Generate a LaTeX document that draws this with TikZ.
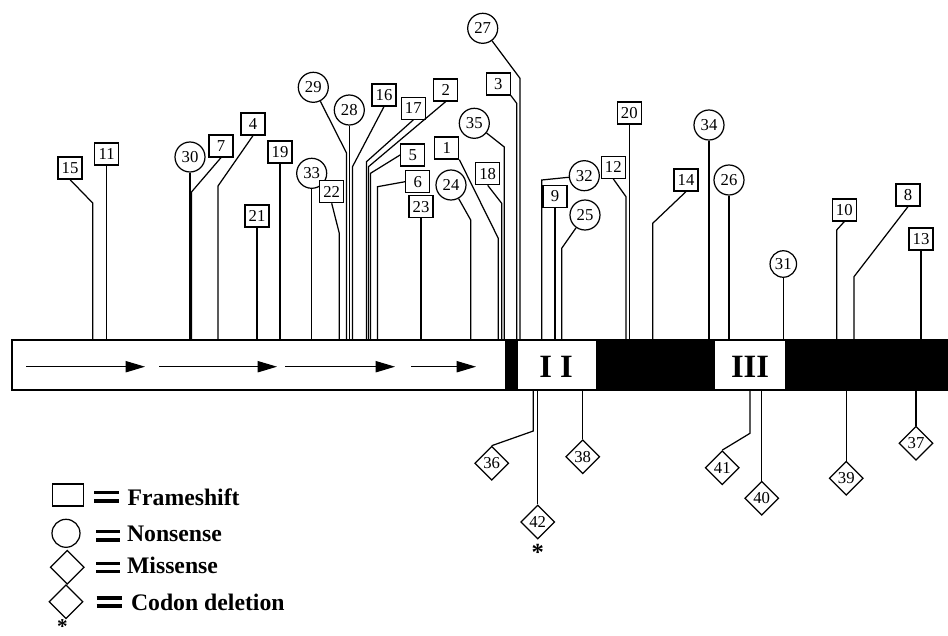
\documentclass[tikz,border=0pt]{standalone}
\usepackage{fontspec}
\setmainfont{Liberation Serif}
\usetikzlibrary{shapes.geometric,arrows.meta}

\begin{document}
\begin{tikzpicture}[x=0.02cm,y=-0.02cm,
  stem/.style={line width=0.7pt},
  numfont/.style={font=\fontsize{9.5}{9.5}\selectfont},
  fs/.style={draw,line width=0.7pt,minimum width=0.48cm,minimum height=0.44cm,inner sep=0pt,fill=white,numfont},
  ns/.style={draw,circle,line width=0.7pt,minimum size=0.6cm,inner sep=0pt,fill=white,numfont},
  nssmall/.style={ns,minimum size=0.53cm},
  ms/.style={draw,diamond,aspect=1,line width=0.7pt,minimum width=0.68cm,minimum height=0.68cm,inner sep=0pt,fill=white,numfont},
  legtext/.style={anchor=base west,inner sep=0pt,font=\fontsize{13.5}{14}\selectfont\bfseries},
  eqbar/.style={line width=1.9pt},
  dom/.style={font=\fontsize{18.5}{19}\selectfont\bfseries,inner sep=0pt},
  flow/.style={line width=0.6pt,-{Triangle[length=11pt,width=6.4pt]}},
  star/.style={anchor=base,inner sep=0pt,font=\fontsize{14}{14}\selectfont\bfseries}]

\useasboundingbox (0,0) rectangle (948,636);

% ---- gene bar ----
\coordinate (bartop) at (0,340);
\coordinate (barbot) at (0,390);
\draw[line width=0.6pt,fill=white] (12,340) rectangle (960,390);
\fill (505,340) rectangle (517,390);
\fill (597,340) rectangle (714,390);
\fill (786,340) rectangle (960,390);
\draw[line width=0.6pt] (517,340) rectangle (597,390);
\draw[line width=0.6pt] (714,340) rectangle (786,390);
\node[dom] (dII) at (556,367) {I I};
\node[dom] (dIII) at (750,367) {III};

\draw[flow] (26,366.7) -- (145,366.7);
\draw[flow] (159,366.7) -- (277,366.7);
\draw[flow] (285,366.7) -- (395,366.7);
\draw[flow] (411,366.7) -- (476,366.7);

% ---- mutation markers above the bar ----
\node[fs] (n15) at (70,168) {15};
\node[fs] (n11) at (106.7,154) {11};
\node[ns] (n30) at (190,157) {30};
\node[fs] (n7) at (221,146) {7};
\node[fs] (n4) at (253,124) {4};
\node[fs] (n21) at (257,216) {21};
\node[fs] (n19) at (280,152) {19};
\node[ns] (n33) at (311.7,173.3) {33};
\node[ns] (n29) at (313.3,87.3) {29};
\node[fs] (n22) at (331.7,191.7) {22};
\node[ns] (n28) at (349.3,110) {28};
\node[fs] (n16) at (384,95) {16};
\node[fs] (n17) at (413.3,108.3) {17};
\node[fs] (n2) at (445.7,90) {2};
\node[fs] (n5) at (412.7,155) {5};
\node[fs] (n6) at (417.7,181.7) {6};
\node[fs] (n23) at (421,206.7) {23};
\node[fs] (n1) at (446.7,148) {1};
\node[ns] (n24) at (451,185) {24};
\node[ns] (n35) at (474.3,123.3) {35};
\node[fs] (n18) at (487.7,173.7) {18};
\node[ns] (n27) at (482.7,28.3) {27};
\node[fs] (n3) at (498.3,84) {3};
\node[ns] (n32) at (584.3,175.7) {32};
\node[fs] (n9) at (555,196.5) {9};
\node[ns] (n25) at (585,215) {25};
\node[fs] (n12) at (613.3,167.3) {12};
\node[fs] (n20) at (629.3,113) {20};
\node[fs] (n14) at (686,180) {14};
\node[ns] (n34) at (709,125) {34};
\node[ns] (n26) at (729,180) {26};
\node[nssmall] (n31) at (783.3,264) {31};
\node[fs] (n10) at (844.3,210) {10};
\node[fs] (n8) at (908,195) {8};
\node[fs] (n13) at (921,239) {13};

% bend points of the slanted leaders
\coordinate (k15) at (92.7,203);
\coordinate (k7) at (191.5,192);
\coordinate (k4) at (218,186);
\coordinate (k29) at (346.5,153);
\coordinate (k22) at (339.3,233.3);
\coordinate (k16) at (352.5,166.7);
\coordinate (k17) at (366.5,161.7);
\coordinate (k2) at (368.5,166.7);
\coordinate (k5) at (370.5,173.3);
\coordinate (k6) at (377.5,186.7);
\coordinate (k1) at (498.3,238.3);
\coordinate (k24) at (470.7,220);
\coordinate (k35) at (504.3,147);
\coordinate (k18) at (501.7,203.3);
\coordinate (k27) at (520,78.3);
\coordinate (k3) at (516.7,103.3);
\coordinate (k32) at (541.7,180);
\coordinate (k25) at (561.7,248.3);
\coordinate (k12) at (626,196.7);
\coordinate (k14) at (652.7,223.3);
\coordinate (k10) at (836.7,230);
\coordinate (k8) at (854,276.7);

% straight leaders
\foreach \n in {11,30,21,19,33,28,23,9,20,34,26,31,13}
  \draw[stem] (n\n.south) -- (n\n.south |- bartop);

% slanted leaders
\draw[stem] (n15.south) -- (k15) -- (k15 |- bartop);
\draw[stem] (n7.south) -- (k7) -- (k7 |- bartop);
\draw[stem] (n4.south) -- (k4) -- (k4 |- bartop);
\draw[stem] (n29) -- (k29) -- (k29 |- bartop);
\draw[stem] (n22.south) -- (k22) -- (k22 |- bartop);
\draw[stem] (n16.south) -- (k16) -- (k16 |- bartop);
\draw[stem] (n17.south) -- (k17) -- (k17 |- bartop);
\draw[stem] (n2.south) -- (k2) -- (k2 |- bartop);
\draw[stem] (n5.west) -- (k5) -- (k5 |- bartop);
\draw[stem] (n6.west) -- (k6) -- (k6 |- bartop);
\draw[stem] (n1.south east) -- (k1) -- (k1 |- bartop);
\draw[stem] (n24) -- (k24) -- (k24 |- bartop);
\draw[stem] (n35) -- (k35) -- (k35 |- bartop);
\draw[stem] (n18.south) -- (k18) -- (k18 |- bartop);
\draw[stem] (n27) -- (k27) -- (k27 |- bartop);
\draw[stem] (n3.south east) -- (k3) -- (k3 |- bartop);
\draw[stem] (n32) -- (k32) -- (k32 |- bartop);
\draw[stem] (n25) -- (k25) -- (k25 |- bartop);
\draw[stem] (n12.south) -- (k12) -- (k12 |- bartop);
\draw[stem] (n14.south) -- (k14) -- (k14 |- bartop);
\draw[stem] (n10.south) -- (k10) -- (k10 |- bartop);
\draw[stem] (n8.south) -- (k8) -- (k8 |- bartop);

% ---- mutation markers below the bar ----
\node[ms] (n36) at (491.7,463.3) {36};
\node[ms] (n42) at (537.7,522) {42};
\node[ms] (n38) at (582.7,456.7) {38};
\node[ms] (n41) at (722.3,467.7) {41};
\node[ms] (n40) at (761.7,498.3) {40};
\node[ms] (n39) at (846.3,478.3) {39};
\node[ms] (n37) at (916,443.3) {37};
\node[star] (s42) at (537.7,560.4) {*};

\coordinate (k36) at (533.3,431);
\coordinate (k41) at (750,433.3);
\draw[stem] (n36.north) -- (k36) -- (k36 |- barbot);
\draw[stem] (n41.north) -- (k41) -- (k41 |- barbot);
\foreach \n in {42,38,40,39,37}
  \draw[stem] (n\n.north) -- (n\n.north |- barbot);

% ---- legend ----
\node[draw,line width=0.7pt,minimum width=0.61cm,minimum height=0.44cm,inner sep=0pt] (lfs) at (68,495) {};
\node[draw,circle,line width=0.7pt,minimum size=0.56cm,inner sep=0pt] (lns) at (66,533.3) {};
\node[draw,diamond,aspect=1,line width=0.7pt,minimum width=0.68cm,minimum height=0.68cm,inner sep=0pt] (lms) at (67.3,567.3) {};
\node[draw,diamond,aspect=1,line width=0.7pt,minimum width=0.68cm,minimum height=0.68cm,inner sep=0pt] (lcd) at (66,601.7) {};
\node[star,font=\fontsize{12}{12}\selectfont\bfseries] (lst) at (62.3,633) {*};

\draw[eqbar] (94,492.5) -- (119.3,492.5) (94,501) -- (119.3,501);
\draw[eqbar] (96,531.7) -- (120,531.7) (96,540) -- (120,540);
\draw[eqbar] (96,563.3) -- (120,563.3) (96,571.7) -- (120,571.7);
\draw[eqbar] (96.7,598) -- (121.7,598) (96.7,606) -- (121.7,606);

\node[legtext] (tfs) at (127.3,505) {Frameshift};
\node[legtext] (tns) at (126.7,541) {Nonsense};
\node[legtext] (tms) at (126.7,573.3) {Missense};
\node[legtext] (tcd) at (130.7,610) {Codon deletion};

\end{tikzpicture}
\end{document}
